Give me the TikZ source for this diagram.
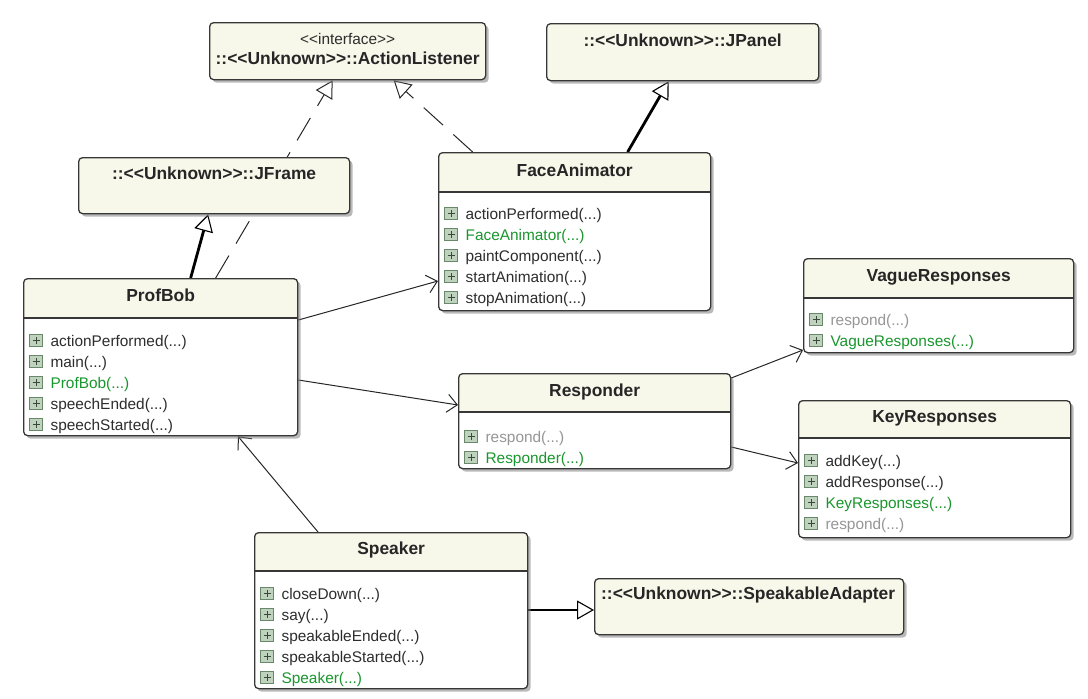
\documentclass[tikz,border=0pt]{standalone}
\usepackage{fontspec}
\setmainfont{Liberation Sans}
\usetikzlibrary{arrows.meta, shadows, backgrounds}

\definecolor{boxedge}{RGB}{55,55,55}
\definecolor{hdrfill}{RGB}{247,247,234}
\definecolor{opcol}{RGB}{45,45,45}
\definecolor{ctorcol}{RGB}{25,150,45}
\definecolor{abscol}{RGB}{150,150,150}
\definecolor{icofill}{RGB}{190,210,190}
\definecolor{icoedge}{RGB}{105,135,105}

% method icon (boxed plus)
\newcommand{\mi}{\rule{0pt}{12.5pt}\tikz[baseline=0.5pt]{\draw[icoedge, fill=icofill, line width=0.9pt] (0pt,0pt) rectangle (13pt,12.5pt);
  \draw[icoedge!55!black, line width=1.1pt] (3pt,6.25pt) -- (10pt,6.25pt) (6.5pt,2.75pt) -- (6.5pt,9.75pt);}\hspace{7.5pt}}

\tikzset{
  classbox/.style = {draw=boxedge, line width=1.3pt, rounded corners=4pt, fill=white,
                     anchor=north west, inner sep=0pt,
                     drop shadow={shadow xshift=3pt, shadow yshift=-3pt, fill=black!50, opacity=0.55}},
  header/.style   = {path picture={
                       \fill[hdrfill, sharp corners] (path picture bounding box.north west)
                         rectangle ([yshift=-#1]path picture bounding box.north east);
                       \draw[boxedge, line width=1.8pt] ([yshift=-#1]path picture bounding box.north west)
                         -- ([yshift=-#1]path picture bounding box.north east);}},
  title/.style    = {font=\fontsize{17.4}{20}\selectfont\bfseries, text=black!85,
                     inner sep=0pt, text height=12.4pt, text depth=0pt},
  stereo/.style   = {font=\fontsize{15.4}{18}\selectfont, text=opcol,
                     inner sep=0pt, text height=8pt, text depth=0pt},
  ops/.style      = {font=\fontsize{15.4}{21}\selectfont, text=opcol, align=left,
                     inner sep=0pt, anchor=north west},
  gen/.style      = {draw=black, line width=2.8pt,
                     -{Triangle[open, length=17pt, width=19pt, line width=1.1pt]}},
  real/.style     = {draw=black!85, line width=1pt, dash pattern=on 26pt off 14pt,
                     -{Triangle[open, length=17pt, width=19pt]}},
  assoc/.style    = {draw=black!85, line width=1pt, -{Straight Barb[length=10pt, width=18pt]}},
}

\begin{document}
\begin{tikzpicture}[x=1pt, y=-1pt]
  \useasboundingbox (0,0) rectangle (1088,699);

  % interfaces and library classes
  \node[classbox, fill=hdrfill, minimum width=276pt, minimum height=57pt] (actionlistener) at (209,22) {};
  \node[stereo] (actionlistener-st) at ([yshift=-18pt]actionlistener.north) {<{}<interface>{}>};
  \node[title] (actionlistener-name) at ([yshift=-36pt]actionlistener.north) {::<{}<Unknown>{}>::ActionListener};

  \node[classbox, fill=hdrfill, minimum width=272pt, minimum height=57pt] (jpanel) at (546,23) {};
  \node[title] (jpanel-name) at ([yshift=-17pt]jpanel.north) {::<{}<Unknown>{}>::JPanel};

  \node[classbox, fill=hdrfill, minimum width=271pt, minimum height=56pt] (jframe) at (78,157) {};
  \node[title] (jframe-name) at ([yshift=-16pt]jframe.north) {::<{}<Unknown>{}>::JFrame};

  \node[classbox, fill=hdrfill, minimum width=309pt, minimum height=56pt] (speakableadapter) at (594,578) {};
  \node[title, anchor=west] (speakableadapter-name) at ([xshift=7pt, yshift=-15pt]speakableadapter.north west)
    {::<{}<Unknown>{}>::SpeakableAdapter};

  % application classes
  \node[classbox, header=39pt, minimum width=272pt, minimum height=158pt] (faceanimator) at (438,152) {};
  \node[title] (faceanimator-name) at ([yshift=-18pt]faceanimator.north) {FaceAnimator};
  \node[ops] (faceanimator-ops) at ([xshift=6pt, yshift=-54.5pt]faceanimator.north west)
    {\mi actionPerformed(...)\\ \mi\textcolor{ctorcol}{FaceAnimator(...)}\\ \mi paintComponent(...)\\
     \mi startAnimation(...)\\ \mi stopAnimation(...)};

  \node[classbox, header=39pt, minimum width=274pt, minimum height=157pt] (profbob) at (23,278) {};
  \node[title] (profbob-name) at ([yshift=-17pt]profbob.north) {ProfBob};
  \node[ops] (profbob-ops) at ([xshift=6pt, yshift=-55.5pt]profbob.north west)
    {\mi actionPerformed(...)\\ \mi main(...)\\ \mi\textcolor{ctorcol}{ProfBob(...)}\\
     \mi speechEnded(...)\\ \mi speechStarted(...)};

  \node[classbox, header=38pt, minimum width=272pt, minimum height=95pt] (responder) at (458,373) {};
  \node[title] (responder-name) at ([yshift=-17pt]responder.north) {Responder};
  \node[ops] (responder-ops) at ([xshift=6pt, yshift=-56.5pt]responder.north west)
    {\mi\textcolor{abscol}{respond(...)}\\ \mi\textcolor{ctorcol}{Responder(...)}};

  \node[classbox, header=39pt, minimum width=270pt, minimum height=94pt] (vagueresponses) at (803,258) {};
  \node[title] (vagueresponses-name) at ([yshift=-17pt]vagueresponses.north) {VagueResponses};
  \node[ops] (vagueresponses-ops) at ([xshift=6pt, yshift=-54.5pt]vagueresponses.north west)
    {\mi\textcolor{abscol}{respond(...)}\\ \mi\textcolor{ctorcol}{VagueResponses(...)}};

  \node[classbox, header=37pt, minimum width=272pt, minimum height=137pt] (keyresponses) at (798,400) {};
  \node[title] (keyresponses-name) at ([yshift=-16pt]keyresponses.north) {KeyResponses};
  \node[ops] (keyresponses-ops) at ([xshift=6pt, yshift=-53.5pt]keyresponses.north west)
    {\mi addKey(...)\\ \mi addResponse(...)\\ \mi\textcolor{ctorcol}{KeyResponses(...)}\\
     \mi\textcolor{abscol}{respond(...)}};

  \node[classbox, header=38pt, minimum width=273pt, minimum height=156pt] (speaker) at (254,532) {};
  \node[title] (speaker-name) at ([yshift=-16pt]speaker.north) {Speaker};
  \node[ops] (speaker-ops) at ([xshift=6pt, yshift=-54.5pt]speaker.north west)
    {\mi closeDown(...)\\ \mi say(...)\\ \mi speakableEnded(...)\\ \mi speakableStarted(...)\\
     \mi\textcolor{ctorcol}{Speaker(...)}};

  % relations
  \begin{scope}[on background layer]
    \draw[gen]   ([xshift=30pt]profbob.north) -- ([xshift=-6pt]jframe.south);
    \draw[real]  ([xshift=55pt]profbob.north) -- ([xshift=-15pt]actionlistener.south);
    \draw[real]  ([xshift=-102pt]faceanimator.north) -- ([xshift=46pt]actionlistener.south);
    \draw[gen]   ([xshift=53pt]faceanimator.north) -- ([xshift=-14pt]jpanel.south);
    \draw[assoc] ([yshift=-42pt]profbob.north east) -- ([yshift=-129pt]faceanimator.north west);
    \draw[assoc] ([yshift=-102pt]profbob.north east) -- ([yshift=-32pt]responder.north west);
    \draw[assoc] ([yshift=-5pt]responder.north east) -- ([yshift=-92pt]vagueresponses.north west);
    \draw[assoc] ([yshift=-74pt]responder.north east) -- ([yshift=-63pt]keyresponses.north west);
    \draw[assoc] ([xshift=64pt]speaker.north west) -- ([xshift=215pt]profbob.south west);
    \draw[gen]   ([yshift=-78pt]speaker.north east) -- ([yshift=-32pt]speakableadapter.north west);
  \end{scope}
\end{tikzpicture}
\end{document}
